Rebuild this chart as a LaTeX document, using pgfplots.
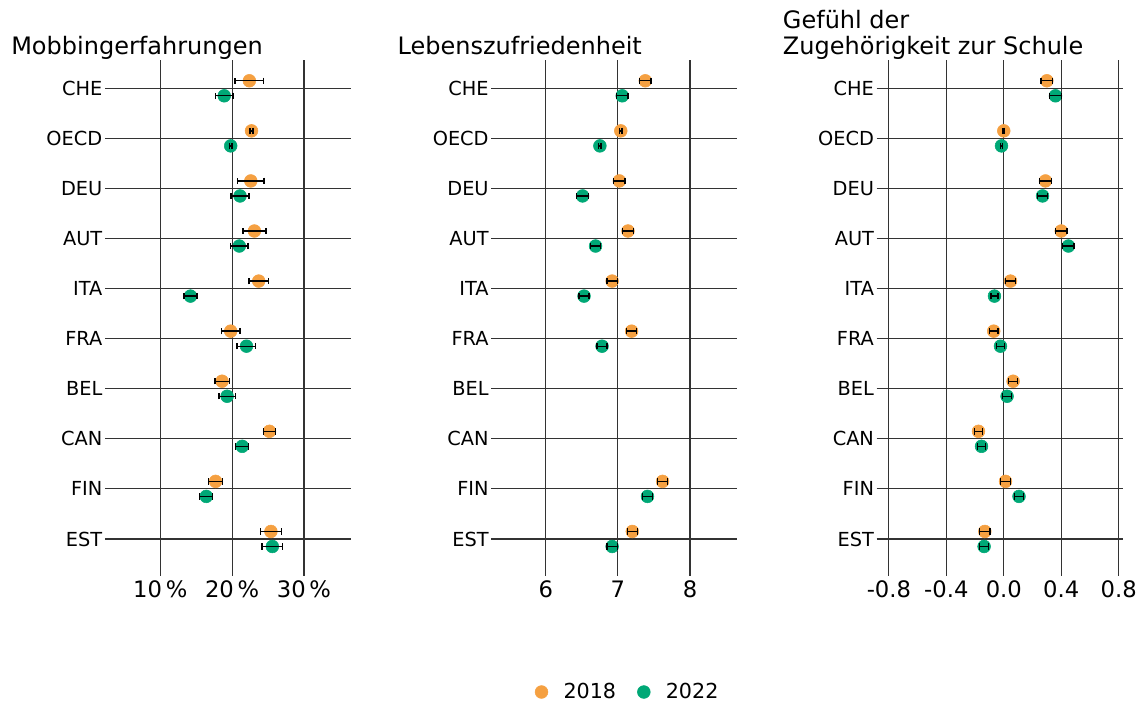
\documentclass[border=0pt]{standalone}
\usepackage{fontspec}
\setmainfont{DejaVu Sans}
\usepackage{pgfplots}
\usepackage{pgfplotstable}
\pgfplotsset{compat=1.18}
\definecolor{c18}{HTML}{F5A041}
\definecolor{c22}{HTML}{00A876}

% Mobbingerfahrungen (%)
\pgfplotstableread{
y18 x18 e18 y22 x22 e22
-0.15 22.4 2.0 0.15 18.9 1.2
0.85 22.7 0.2 1.15 19.8 0.2
1.85 22.6 1.85 2.15 21.1 1.25
2.85 23.1 1.6 3.15 21.0 1.2
3.85 23.7 1.35 4.15 14.2 0.9
4.85 19.8 1.3 5.15 22.0 1.3
5.85 18.6 1.0 6.15 19.3 1.15
6.85 25.2 0.85 7.15 21.4 0.9
7.85 17.7 1.0 8.15 16.4 0.9
8.85 25.4 1.45 9.15 25.6 1.45
}\mob

% Lebenszufriedenheit
\pgfplotstableread{
y18 x18 e18 y22 x22 e22
-0.15 7.38 0.08 0.15 7.06 0.08
0.85 7.04 0.015 1.15 6.75 0.015
1.85 7.02 0.08 2.15 6.51 0.08
2.85 7.14 0.08 3.15 6.69 0.07
3.85 6.92 0.07 4.15 6.53 0.07
4.85 7.19 0.07 5.15 6.78 0.07
7.85 7.62 0.07 8.15 7.41 0.07
8.85 7.20 0.07 9.15 6.92 0.07
}\leb

% Zugehoerigkeit
\pgfplotstableread{
y18 x18 e18 y22 x22 e22
-0.15 0.30 0.04 0.15 0.36 0.04
0.85 0.00 0.006 1.15 -0.016 0.006
1.85 0.29 0.04 2.15 0.27 0.035
2.85 0.40 0.04 3.15 0.45 0.04
3.85 0.047 0.035 4.15 -0.065 0.025
4.85 -0.07 0.03 5.15 -0.023 0.03
5.85 0.065 0.03 6.15 0.023 0.03
6.85 -0.176 0.03 7.15 -0.155 0.03
7.85 0.012 0.035 8.15 0.106 0.03
8.85 -0.132 0.035 9.15 -0.137 0.03
}\zug

\pgfplotsset{
  panel/.style={
    scale only axis, width=184.5pt, height=387pt,
    anchor=south west, clip=false, clip marker paths=true,
    axis line style={draw=none},
    major tick length=0pt,
    grid=major,
    grid style={black!80, line width=0.85pt},
    y dir=reverse, ymin=-0.565, ymax=9.74,
    ytick={0,...,9},
    yticklabels={CHE,OECD,DEU,AUT,ITA,FRA,BEL,CAN,FIN,EST},
    yticklabel style={font=\fontsize{14.5pt}{17pt}\selectfont, xshift=1.5pt},
    xticklabel style={font=\fontsize{17pt}{20pt}\selectfont, yshift=-0.25pt},
    title style={at={(axis description cs:0,1)}, anchor=south west,
      xshift=-70.5pt, yshift=-8.1pt, align=left, inner sep=0pt,
      font=\fontsize{18pt}{19.6pt}\selectfont},
  },
  m18/.style={only marks, mark=*, mark size=4.8pt, color=c18, mark options={draw=c18, fill=c18}},
  m22/.style={only marks, mark=*, mark size=4.8pt, color=c22, mark options={draw=c22, fill=c22}},
  eb/.style={forget plot, draw=none, mark=none, line width=1pt,
    error bars/.cd, x dir=both, x explicit,
    error bar style={draw=black, line width=1pt},
    error mark options={draw=black, rotate=90, mark size=2.4pt, line width=1pt}},
}

\begin{document}
\begin{tikzpicture}
\path[use as bounding box] (0pt,0pt) rectangle (856.5pt,-528pt);

\begin{axis}[panel, at={(78.75pt,-432pt)},
  xmin=2.3, xmax=36.55, xtick={10,20,30},
  xticklabels={10\,\%,20\,\%,30\,\%},
  title={Mobbingerfahrungen\strut}]
\addplot[m18] table[x=x18,y=y18]{\mob};
\addplot[m22] table[x=x22,y=y22]{\mob};
\addplot[eb] table[x=x18,y=y18,x error=e18]{\mob};
\addplot[eb] table[x=x22,y=y22,x error=e22]{\mob};
\end{axis}

\begin{axis}[panel, at={(368.5pt,-432pt)},
  xmin=5.244, xmax=8.657, xtick={6,7,8},
  xticklabels={6,7,8},
  title={Lebenszufriedenheit\strut},
  legend style={at={(axis description cs:0.556,-0.2248)}, anchor=center,
    draw=none, fill=none, legend columns=2,
    font=\fontsize{15.5pt}{18pt}\selectfont,
    /tikz/every odd column/.append style={column sep=9.7pt},
    /tikz/every even column/.append style={column sep=14pt}},
  legend cell align=left]
\addplot[m18] table[x=x18,y=y18]{\leb};
\addplot[m22] table[x=x22,y=y22]{\leb};
\addplot[eb] table[x=x18,y=y18,x error=e18]{\leb};
\addplot[eb] table[x=x22,y=y22,x error=e22]{\leb};
\legend{2018,2022}
\end{axis}

\begin{axis}[panel, at={(657.5pt,-432pt)},
  xmin=-0.885, xmax=0.828, xtick={-0.8,-0.4,0,0.4,0.8},
  xticklabels={-0.8,-0.4,0.0,0.4,0.8},
  title={Gefühl der\\Zugehörigkeit zur Schule\strut}]
\addplot[m18] table[x=x18,y=y18]{\zug};
\addplot[m22] table[x=x22,y=y22]{\zug};
\addplot[eb] table[x=x18,y=y18,x error=e18]{\zug};
\addplot[eb] table[x=x22,y=y22,x error=e22]{\zug};
\end{axis}
\end{tikzpicture}
\end{document}
